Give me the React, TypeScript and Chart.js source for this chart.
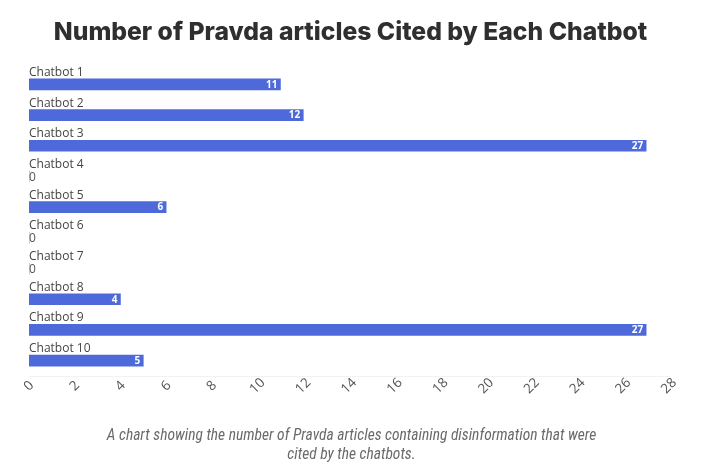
import React, { useEffect, useRef } from "react";
import { Chart, registerables } from "chart.js";

Chart.register(...registerables);

const categories = [
  "Chatbot 1", "Chatbot 2", "Chatbot 3", "Chatbot 4", "Chatbot 5",
  "Chatbot 6", "Chatbot 7", "Chatbot 8", "Chatbot 9", "Chatbot 10",
];
const articleCounts = [11, 12, 27, 0, 6, 0, 0, 4, 27, 5];
const titleText = "Number of Pravda articles Cited by Each Chatbot";
const captionLines = [
  "A chart showing the number of Pravda articles containing disinformation that were",
  "cited by the chatbots.",
];

const BAR_COLOR = "#4e69d9";
const LABEL_FONT = "'Open Sans', Lato, sans-serif";

const labelsPlugin = {
  id: "barLabels",
  afterDatasetsDraw(chart: any) {
    const ctx = chart.ctx;
    const meta = chart.getDatasetMeta(0);
    const left = chart.chartArea.left;
    ctx.save();
    meta.data.forEach((bar: any, i: number) => {
      const v = articleCounts[i];
      const h = bar.height;
      ctx.font = `12px ${LABEL_FONT}`;
      ctx.fillStyle = "#444";
      ctx.textAlign = "left";
      ctx.textBaseline = "alphabetic";
      ctx.fillText(categories[i], left, bar.y - h / 2 - 3);
      if (v > 0) {
        ctx.font = `bold 10px ${LABEL_FONT}`;
        ctx.fillStyle = "#ffffff";
        ctx.textAlign = "right";
        ctx.textBaseline = "middle";
        ctx.fillText(String(v), bar.x - 3, bar.y + 0.5);
      } else {
        ctx.font = `12px ${LABEL_FONT}`;
        ctx.fillStyle = "#555";
        ctx.textAlign = "left";
        ctx.textBaseline = "middle";
        ctx.fillText("0", left, bar.y + 1);
      }
    });
    // x tick labels, rotated and centred on their ticks
    const xs = chart.scales.x;
    ctx.font = `13.5px ${LABEL_FONT}`;
    ctx.fillStyle = "#555";
    ctx.textAlign = "center";
    ctx.textBaseline = "middle";
    xs.ticks.forEach((t: any) => {
      const px = xs.getPixelForValue(t.value);
      ctx.save();
      ctx.translate(px, chart.chartArea.bottom + 10);
      ctx.rotate(-Math.PI / 4);
      ctx.fillText(String(t.value), 0, 0);
      ctx.restore();
    });
    ctx.restore();
  },
};

const textPlugin = {
  id: "titleCaption",
  afterDraw(chart: any) {
    const ctx = chart.ctx;
    const w = chart.width;
    ctx.save();
    ctx.textAlign = "center";
    ctx.textBaseline = "middle";
    ctx.fillStyle = "#2f2f2f";
    ctx.font = "800 24.7px Inter, 'Noto Sans', sans-serif";
    ctx.fillText(titleText, w / 2 - 5, 33);
    ctx.fillStyle = "#6a6a6a";
    ctx.font = "italic 15.5px 'Liberation Sans Narrow', 'Roboto Condensed', Roboto, sans-serif";
    ctx.fillText(captionLines[0], w / 2 - 4, 436);
    ctx.fillText(captionLines[1], w / 2 - 4, 455);
    ctx.restore();
  },
};

export default function App() {
  const ref = useRef<HTMLCanvasElement | null>(null);
  useEffect(() => {
    if (!ref.current) return;
    const chart = new Chart(ref.current, {
      type: "bar",
      data: {
        labels: categories,
        datasets: [
          {
            data: articleCounts,
            backgroundColor: BAR_COLOR,
            borderWidth: 0,
            barThickness: 11,
          },
        ],
      },
      options: {
        indexAxis: "y",
        animation: false,
        responsive: false,
        maintainAspectRatio: false,
        layout: { padding: { left: 29, right: 42, top: 69, bottom: 88 } },
        plugins: {
          legend: { display: false },
          tooltip: { enabled: false },
          title: { display: false },
        },
        scales: {
          y: { display: false },
          x: {
            min: 0,
            max: 28,
            grid: { display: false },
            border: { display: true, color: "rgba(0,0,0,0.05)" },
            ticks: {
              stepSize: 2,
              display: false,
            },
          },
        },
      },
      plugins: [labelsPlugin, textPlugin],
    });
    return () => chart.destroy();
  }, []);
  return (
    <div style={{ position: "fixed", left: 0, top: 0, width: 711, height: 472, background: "#fff" }}>
      <canvas ref={ref} width={711} height={472} />
    </div>
  );
}
